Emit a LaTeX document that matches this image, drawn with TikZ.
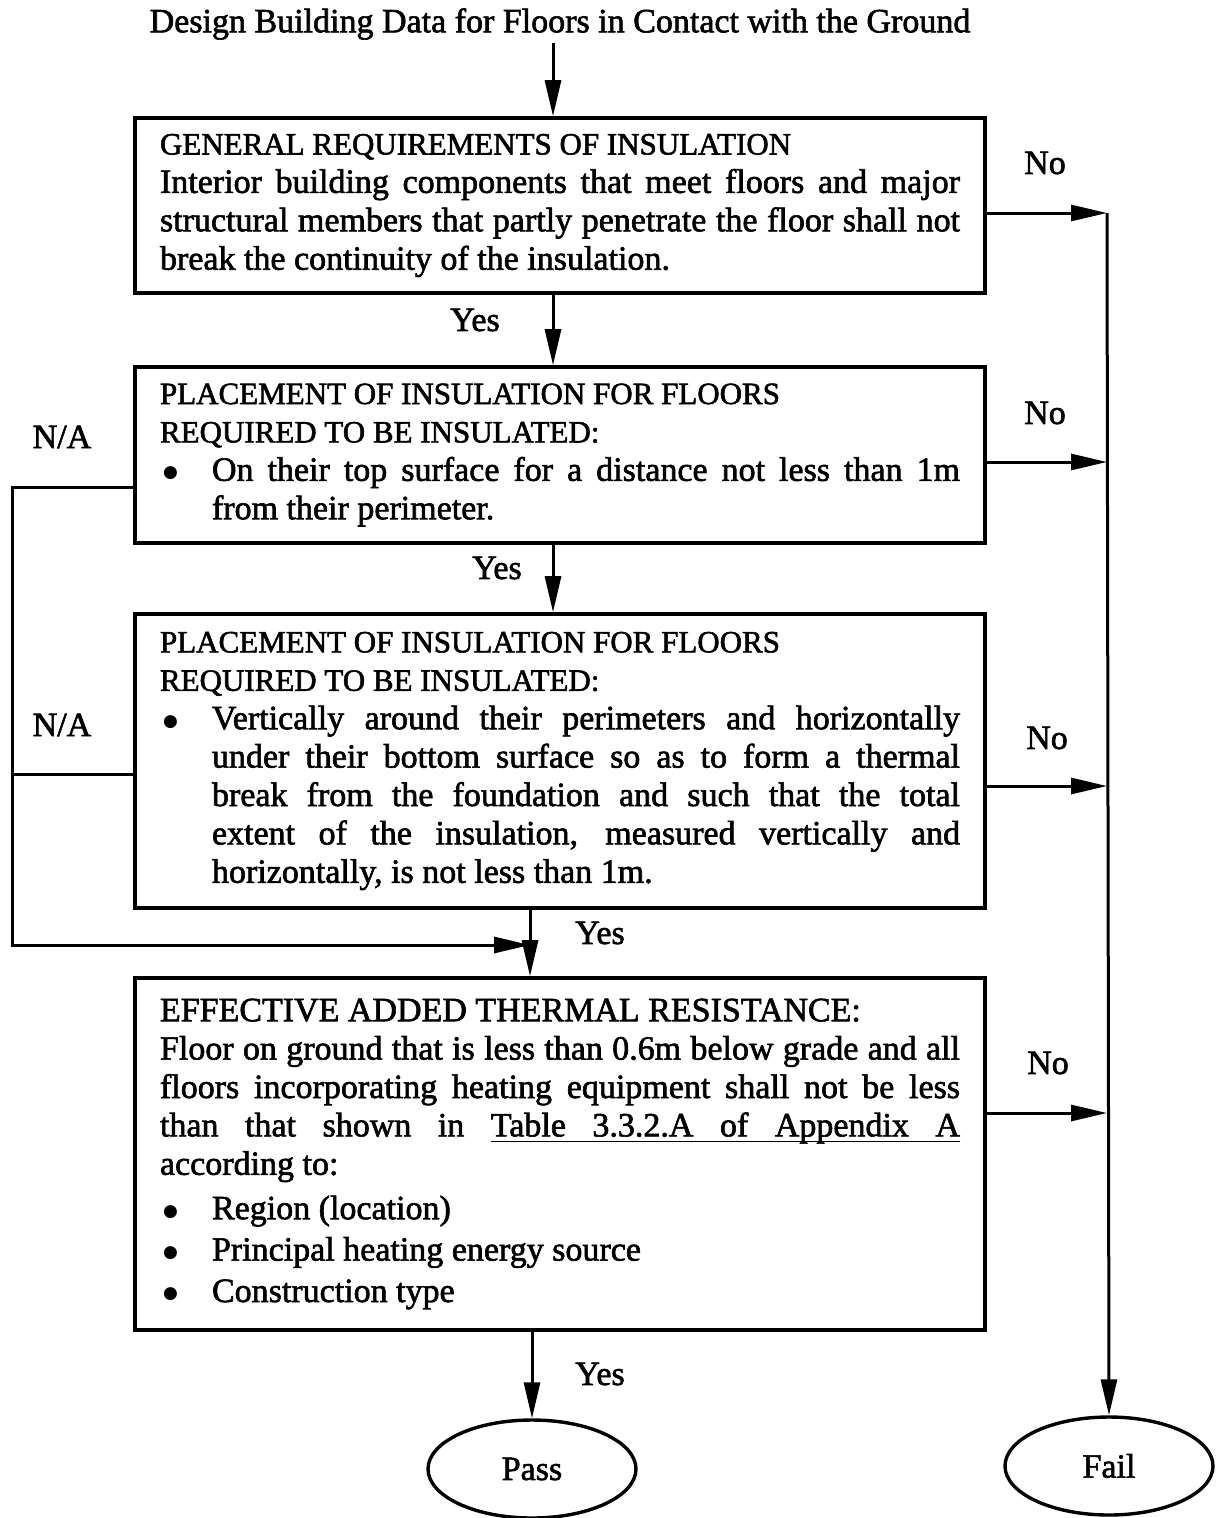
\documentclass[tikz,border=0pt]{standalone}
\usepackage{fontspec}
\setmainfont{Liberation Serif}[FakeBold=1.8]
\newfontfamily\dotfont{DejaVu Sans}
\usetikzlibrary{arrows.meta,shapes.geometric}
\newcommand{\bodyfont}{\fontsize{34}{38.4}\selectfont}
\newcommand{\capsfont}{\fontsize{31}{38.4}\selectfont}
\newcommand{\dotmark}{\raisebox{3pt}{\dotfont\fontsize{17}{17}\selectfont ●}}
\newcommand{\bitem}[1]{\par\hangindent=52pt\hangafter=1\noindent\makebox[52pt][l]{\hspace{3pt}\dotmark}#1\par}
% underlined words joined by stretchable underlined spaces
\newsavebox\ulbox
\newcommand{\ulw}[1]{\sbox\ulbox{#1}\rlap{\rule[-6pt]{\wd\ulbox}{1.8pt}}\usebox\ulbox}
\newcommand{\uls}{\leaders\hrule height -4.2pt depth 6pt\hskip\fontdimen2\font plus\fontdimen3\font minus\fontdimen4\font\relax}
\begin{document}
\begin{tikzpicture}[x=1pt,y=-1pt,
  box/.style={draw, line width=3.6pt, text width=800pt, inner xsep=25pt, inner ysep=0pt,
    align=justify, font=\bodyfont, execute at begin node={\setlength{\parindent}{0pt}}},
  term/.style={draw, ellipse, line width=3.4pt, minimum width=208pt, minimum height=98pt,
    inner sep=0pt, font=\bodyfont},
  lbl/.style={font=\bodyfont, inner sep=0pt},
  link/.style={line width=3pt},
  arr/.style={link, -{Triangle[length=36pt,width=16pt]}}]
\useasboundingbox (0,0) rectangle (1217,1518);

% title
\node[font=\fontsize{34}{38.4}\selectfont] (title) at (560,24) {Design Building Data for Floors in Contact with the Ground};

% check boxes
\node[box, minimum height=175pt] (b1) at (560,205.5) {{\capsfont GENERAL REQUIREMENTS OF INSULATION}\par
Interior building components that meet floors and major\linebreak structural members that partly penetrate the floor shall not\linebreak break the continuity of the insulation.};

\node[box, minimum height=176pt] (b2) at (560,455) {{\capsfont PLACEMENT OF INSULATION FOR FLOORS\par REQUIRED TO BE INSULATED:}\par
\bitem{On their top surface for a distance not less than 1m\linebreak from their perimeter.}};

\node[box, minimum height=294pt] (b3) at (560,761) {{\capsfont PLACEMENT OF INSULATION FOR FLOORS\par REQUIRED TO BE INSULATED:}\par
\bitem{Vertically around their perimeters and horizontally\linebreak under their bottom surface so as to form a thermal\linebreak break from the foundation and such that the total\linebreak extent of the insulation, measured vertically and\linebreak horizontally, is not less than 1m.}};

\node[box, minimum height=352pt] (b4) at (560,1154) {EFFECTIVE ADDED THERMAL RESISTANCE:\par
Floor on ground that is less than 0.6m below grade and all\linebreak floors incorporating heating equipment shall not be less\linebreak than that shown in \ulw{Table}\uls\ulw{3.3.2.A}\uls\ulw{of}\uls\ulw{Appendix}\uls\ulw{A}\linebreak according to:\par\vspace{6pt}
\bitem{Region (location)}\vspace{3pt}
\bitem{Principal heating energy source}\vspace{3pt}
\bitem{Construction type}};

% terminals
\node[term] (pass) at (532,1469) {Pass};
\node[term] (fail) at (1109,1466) {Fail};

% junction points
\coordinate (r1) at (1107,213);
\coordinate (r2) at (1107,462);
\coordinate (r3) at (1107,786);
\coordinate (r4) at (1107,1113);
\coordinate (l2) at (12,487);
\coordinate (l3) at (12,774);
\coordinate (l4) at (12,945);
\coordinate (j4) at (530,945);

% main flow
\draw[arr] ([xshift=-7pt]title.south) -- ([xshift=-7pt]b1.north);
\draw[arr] ([xshift=-7pt]b1.south) -- ([xshift=-7pt]b2.north);
\draw[arr] ([xshift=-7pt]b2.south) -- ([xshift=-7pt]b3.north);
\draw[arr] (b3.south -| j4) -- (b4.north -| j4);
\draw[arr] (b4.south -| pass.north) -- (pass.north);

% failure branch
\draw[arr] (b1.east |- r1) -- (r1);
\draw[arr] (b2.east |- r2) -- (r2);
\draw[arr] (b3.east |- r3) -- (r3);
\draw[arr] (b4.east |- r4) -- (r4);
\draw[arr] (r1) -- (fail.north);

% not-applicable bypass
\draw[arr] (b2.west |- l2) -- (l2) -- (l4) -- (j4);
\draw[link] (b3.west |- l3) -- (l3);

% labels
\node[lbl] (no1) at (1045,163) {No};
\node[lbl] (no2) at (1045,413) {No};
\node[lbl] (no3) at (1047,738) {No};
\node[lbl] (no4) at (1048,1063) {No};
\node[lbl] (yes1) at (475,320) {Yes};
\node[lbl] (yes2) at (497,568) {Yes};
\node[lbl] (yes3) at (600,933) {Yes};
\node[lbl] (yes4) at (600,1374) {Yes};
\node[lbl] (na1) at (62,437) {N/A};
\node[lbl] (na2) at (62,725) {N/A};
\end{tikzpicture}
\end{document}
